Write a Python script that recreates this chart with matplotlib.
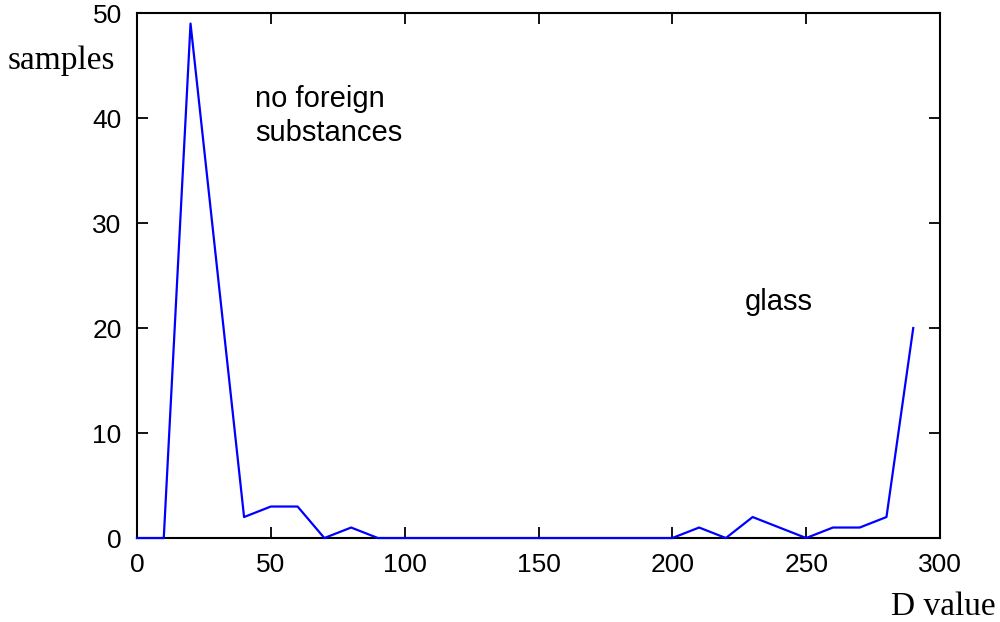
import matplotlib
matplotlib.use('Agg')
import matplotlib.pyplot as plt

# D value bins and sample counts
d_value = [0, 10, 20, 30, 40, 50, 60, 70, 80, 90, 100, 110, 120, 130, 140,
           150, 160, 170, 180, 190, 200, 210, 220, 230, 240, 250, 260, 270,
           280, 290]
samples = [0, 0, 49, 25.5, 2, 3, 3, 0, 1, 0, 0, 0, 0, 0, 0,
           0, 0, 0, 0, 0, 0, 1, 0, 2, 1, 0, 1, 1,
           2, 20]

x_ticks = [0, 50, 100, 150, 200, 250, 300]
y_ticks = [0, 10, 20, 30, 40, 50]

fig = plt.figure(figsize=(10, 6.22), dpi=100)
ax = fig.add_axes([0.137, 0.135, 0.803, 0.844])

ax.plot(d_value, samples, color='#0000ff', lw=1.6, zorder=5, clip_on=False)

ax.set_xlim(0, 300)
ax.set_ylim(0, 50)
ax.set_xticks(x_ticks)
ax.set_yticks(y_ticks)
ax.tick_params(direction='in', length=8, width=1.3, top=True, right=True,
               labelsize=19, pad=11)
for lbl in ax.get_xticklabels() + ax.get_yticklabels():
    lbl.set_family('Liberation Sans')
for sp in ax.spines.values():
    sp.set_linewidth(1.5)

# axis labels sit outside the box, in a serif face
fig.text(0.008, 0.902, 'samples', family='Liberation Serif', fontsize=24,
         ha='left', va='center')
fig.text(0.996, 0.025, 'D value', family='Liberation Serif', fontsize=24,
         ha='right', va='center')

ax.text(44, 40.2, 'no foreign\nsubstances', family='Liberation Sans',
        fontsize=21, ha='left', va='center', linespacing=1.3)
ax.text(227, 22.5, 'glass', family='Liberation Sans', fontsize=21,
        ha='left', va='center')

plt.savefig('out.png', dpi=100)
plt.close()
